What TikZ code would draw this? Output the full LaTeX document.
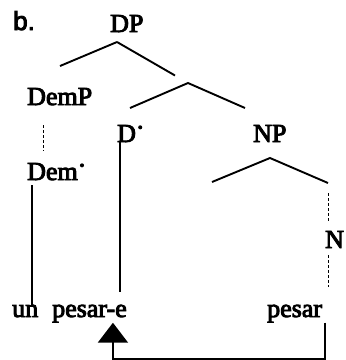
\documentclass[tikz,border=0pt]{standalone}
\usepackage{fontspec}
\setmainfont{Liberation Serif}[FakeBold=3.5]
\setsansfont{Liberation Sans}[FakeBold=3.5]
\usepackage{tikz}
\usetikzlibrary{arrows.meta,positioning}

\newcommand{\bardot}{\kern1pt\raisebox{13.5pt}{.}}

\begin{document}
\begin{tikzpicture}
		[x=1pt, y=-1pt, inner sep=0pt, font=\fontsize{26}{30}\selectfont,
		cat/.style		= {anchor=base west},
		branch/.style	= {draw, line width=1.9pt},
		trace/.style	= {draw, line width=0.9pt, dash pattern=on 3pt off 2pt},
		chain/.style	= {draw, line width=2pt},
		move/.style		= {draw, line width=2.2pt, -{Triangle[width=30pt, length=20pt]}}]

		\useasboundingbox (0,0) rectangle (346,360);

		\node [cat, font=\sffamily\fontsize{26}{30}\selectfont] at (13,30) (ex) {b.};

		\node [cat] at (110,32)		(DP)		{DP};
		\node [cat] at (27,105)		(DemP)		{DemP};
		\node [cat] at (117,142)	(D)			{D\bardot};
		\node [cat] at (253,142)	(NP)		{NP};
		\node [cat] at (27,180)		(Dem)		{Dem\bardot};
		\node [cat] at (325,248)	(N)			{N};
		\node [cat] at (12,317)		(un)		{un};
		\node [cat] at (52,317)		(pesare)	{pesar-e};
		\node [cat] at (267,317)	(pesar)		{pesar};

		% forks
		\coordinate (DP-fork)	at (117,42);
		\coordinate (Dbar)		at (188,83);
		\coordinate (NP-fork)	at (270,158);

		\draw [branch] (DP-fork) -- +(-57,24);
		\draw [branch, shorten >=15pt] (DP-fork) -- (Dbar);
		\draw [branch] (Dbar) +(-58,25) -- (Dbar) -- +(57,25);
		\draw [branch] (NP-fork) +(-58,24) -- (NP-fork) -- +(58,25);

		% heads and words
		\draw [trace] ([xshift=16pt, yshift=-20pt]DemP.south west) -- ([xshift=16pt, yshift=12pt]Dem.north west);
		\draw [chain] ([xshift=5pt, yshift=-5pt]Dem.south west) -- ([xshift=20pt]un.north west);
		\draw [chain] ([xshift=3pt]D.south west) -- ([xshift=68pt, yshift=13pt]pesare.north west);
		\draw [trace] ([yshift=-10pt]NP-fork) ++(58,25) -- ([xshift=3pt, yshift=9pt]N.north west);
		\draw [trace] ([xshift=3pt, yshift=-7pt]N.south west) -- ([xshift=61pt, yshift=18pt]pesar.north west);

		% head movement
		\draw [move] ([xshift=3pt]pesar.south east) -- ++(0,36) -| ([xshift=-14pt]pesare.south east);
\end{tikzpicture}
\end{document}
